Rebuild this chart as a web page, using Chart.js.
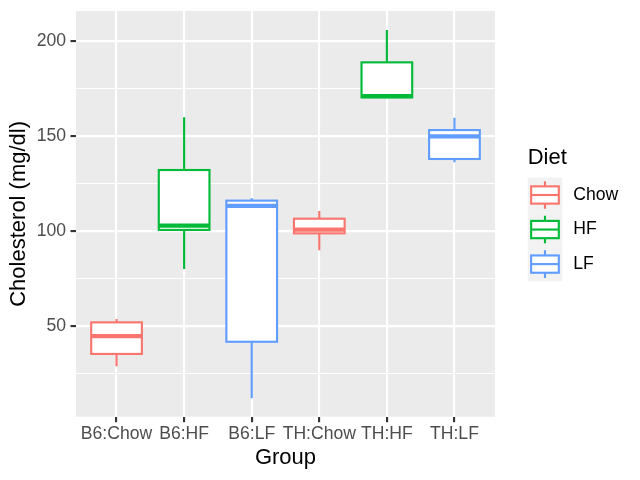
<!DOCTYPE html>
<html>
<head>
<meta charset="utf-8">
<script src="https://cdn.jsdelivr.net/npm/chart.js@4.4.1/dist/chart.umd.min.js"></script>
<style>
  html, body { margin: 0; padding: 0; background: #ffffff; }
  #wrap { width: 640px; height: 480px; position: relative; }
</style>
</head>
<body>
<div id="wrap"><canvas id="boxChart"></canvas></div>
<script>
// Data
const groups = ["B6:Chow", "B6:HF", "B6:LF", "TH:Chow", "TH:HF", "TH:LF"];
const groupDiet = ["Chow", "HF", "LF", "Chow", "HF", "LF"];
const whiskerLow = [28.8, 80.0, 12.0, 89.8, 169.7, 136.1];
const quartile1 = [35.3, 100.5, 41.7, 98.7, 170.2, 137.8];
const medians = [44.7, 102.7, 113.1, 100.6, 170.9, 149.7];
const quartile3 = [51.9, 132.0, 115.9, 106.4, 188.6, 153.0];
const whiskerHigh = [53.7, 159.7, 117.1, 110.5, 205.6, 159.5];
const diets = ["Chow", "HF", "LF"];
const yTicks = [50, 100, 150, 200];

const dietColors = { Chow: "#F8766D", HF: "#00BA38", LF: "#619CFF" };
const FONT = "'Liberation Sans', Arial, Helvetica, sans-serif";
const BOX_W = 0.75;

// panel background, boxes and ggplot-style legend
const boxPlugin = {
  id: "ggBoxes",
  beforeDraw(chart) {
    const { ctx, chartArea: a } = chart;
    ctx.save();
    ctx.fillStyle = "#EBEBEB";
    ctx.fillRect(a.left, a.top, a.right - a.left, a.bottom - a.top);
    ctx.restore();
  },
  afterDatasetsDraw(chart) {
    const { ctx, scales: { x, y } } = chart;
    ctx.save();
    groups.forEach((g, i) => {
      const col = dietColors[groupDiet[i]];
      const xc = x.getPixelForValue(i);
      const xl = x.getPixelForValue(i - BOX_W / 2);
      const xr = x.getPixelForValue(i + BOX_W / 2);
      const yLo = y.getPixelForValue(whiskerLow[i]);
      const yQ1 = y.getPixelForValue(quartile1[i]);
      const yMed = y.getPixelForValue(medians[i]);
      const yQ3 = y.getPixelForValue(quartile3[i]);
      const yHi = y.getPixelForValue(whiskerHigh[i]);
      ctx.strokeStyle = col;
      ctx.lineCap = "butt";
      ctx.lineJoin = "miter";
      // whiskers
      ctx.lineWidth = 2.13;
      ctx.beginPath();
      ctx.moveTo(xc, yQ3); ctx.lineTo(xc, yHi);
      ctx.moveTo(xc, yQ1); ctx.lineTo(xc, yLo);
      ctx.stroke();
      // box
      ctx.fillStyle = "#ffffff";
      ctx.fillRect(xl, yQ3, xr - xl, yQ1 - yQ3);
      ctx.strokeRect(xl, yQ3, xr - xl, yQ1 - yQ3);
      // median
      ctx.lineWidth = 4.27;
      ctx.beginPath();
      ctx.moveTo(xl, yMed); ctx.lineTo(xr, yMed);
      ctx.stroke();
    });
    ctx.restore();
  },
  afterDraw(chart) {
    const { ctx } = chart;
    const left = 527.7, top = 177.7, key = 34.56;
    ctx.save();
    ctx.fillStyle = "#000000";
    ctx.font = "22px " + FONT;
    ctx.textBaseline = "middle";
    ctx.textAlign = "left";
    ctx.fillText("Diet", left, 158);
    diets.forEach((d, k) => {
      const kt = top + k * key;
      ctx.fillStyle = "#F2F2F2";
      ctx.fillRect(left, kt, key, key);
      const col = dietColors[d];
      ctx.strokeStyle = col;
      ctx.lineWidth = 2.13;
      const x0 = left + key * 0.1, x1 = left + key * 0.9, xm = left + key / 2;
      ctx.beginPath();
      ctx.moveTo(xm, kt + key * 0.1); ctx.lineTo(xm, kt + key * 0.25);
      ctx.moveTo(xm, kt + key * 0.75); ctx.lineTo(xm, kt + key * 0.9);
      ctx.stroke();
      ctx.fillStyle = "#ffffff";
      ctx.fillRect(x0, kt + key * 0.25, x1 - x0, key * 0.5);
      ctx.strokeRect(x0, kt + key * 0.25, x1 - x0, key * 0.5);
      ctx.beginPath();
      ctx.moveTo(x0, kt + key / 2); ctx.lineTo(x1, kt + key / 2);
      ctx.stroke();
      ctx.fillStyle = "#000000";
      ctx.font = "17.6px " + FONT;
      ctx.fillText(d, 573.3, kt + key / 2);
    });
    ctx.restore();
  }
};

const datasets = diets.map(d => ({
  label: d,
  data: groups.map((g, i) => ({ x: i, y: medians[i] })).filter((p, i) => groupDiet[i] === d),
  pointRadius: 0,
  showLine: false
}));

new Chart(document.getElementById("boxChart"), {
  type: "scatter",
  data: { datasets },
  options: {
    responsive: true,
    maintainAspectRatio: false,
    animation: false,
    layout: { padding: { left: 0, right: 145, top: 11, bottom: 0 } },
    plugins: { legend: { display: false }, tooltip: { enabled: false } },
    scales: {
      x: {
        type: "linear",
        min: -0.6,
        max: 5.6,
        afterBuildTicks: s => { s.ticks = groups.map((g, i) => ({ value: i })); },
        afterFit: s => { s.height = 63.3; s.paddingLeft = 0; s.paddingRight = 0; },
        border: { display: false },
        grid: { color: "#ffffff", lineWidth: 2.13, tickColor: "#333333", tickWidth: 2.13, tickLength: 5.5 },
        ticks: {
          autoSkip: false, maxRotation: 0, minRotation: 0, padding: 1,
          color: "#4D4D4D", font: { family: FONT, size: 17.6 },
          callback: v => groups[v]
        },
        title: { display: true, text: "Group", color: "#000000", font: { family: FONT, size: 22 }, padding: { top: 0, bottom: 9.3 } }
      },
      y: {
        min: 2.3,
        max: 215.6,
        afterBuildTicks: s => {
          const t = [];
          for (let v = 25; v <= 200; v += 25) t.push({ value: v });
          s.ticks = t;
        },
        // fixed axis width, and no extra label padding above/below the panel
        afterFit: s => { s.width = 76; s.paddingTop = 0; s.paddingBottom = 0; },
        border: { display: false },
        grid: {
          color: "#ffffff",
          lineWidth: c => (yTicks.includes(c.tick.value) ? 2.13 : 1.07),
          tickColor: c => (yTicks.includes(c.tick.value) ? "#333333" : "rgba(0,0,0,0)"),
          tickWidth: 2.13,
          tickLength: 5.5
        },
        ticks: {
          padding: 4.4, color: "#4D4D4D", font: { family: FONT, size: 17.6 },
          callback: v => (yTicks.includes(v) ? String(v) : "")
        },
        title: { display: true, text: "Cholesterol (mg/dl)", color: "#000000", font: { family: FONT, size: 22 }, padding: { top: 5.8, bottom: 0 } }
      }
    }
  },
  plugins: [boxPlugin]
});
</script>
</body>
</html>
